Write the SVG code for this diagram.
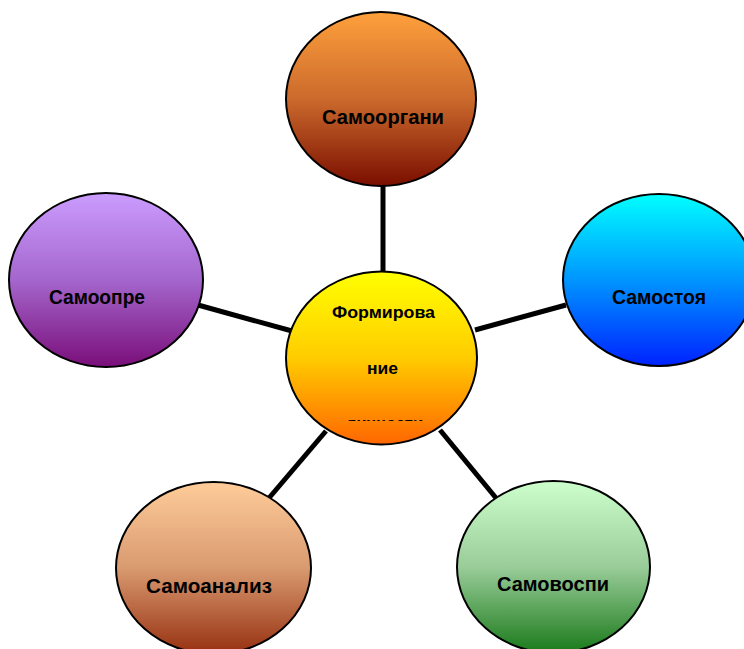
<svg xmlns="http://www.w3.org/2000/svg" width="744" height="649" viewBox="0 0 744 649">
  <style>
    .node { stroke: #000; stroke-width: 2; }
    .edge { stroke: #000; stroke-width: 5; fill: none; }
    .lbl { font-family: "Liberation Sans", Arial, sans-serif; font-weight: bold; font-size: 20px; fill: #000; text-anchor: middle; }
    .clbl { font-family: "Liberation Sans", Arial, sans-serif; font-weight: bold; font-size: 16px; fill: #000; text-anchor: middle; }
  </style>
  <defs>
    <linearGradient id="gTop" x1="0" y1="0" x2="0" y2="1">
      <stop offset="0" stop-color="#FFA03C"/>
      <stop offset="0.5" stop-color="#CB6A2C"/>
      <stop offset="1" stop-color="#7A0E00"/>
    </linearGradient>
    <linearGradient id="gRight" x1="0" y1="0" x2="0" y2="1">
      <stop offset="0" stop-color="#00FFFF"/>
      <stop offset="0.5" stop-color="#0095FF"/>
      <stop offset="1" stop-color="#0022FF"/>
    </linearGradient>
    <linearGradient id="gLeft" x1="0" y1="0" x2="0" y2="1">
      <stop offset="0" stop-color="#CC9CFF"/>
      <stop offset="0.5" stop-color="#A466CC"/>
      <stop offset="1" stop-color="#7A0E7A"/>
    </linearGradient>
    <linearGradient id="gBL" x1="0" y1="0" x2="0" y2="1">
      <stop offset="0" stop-color="#FFCC99"/>
      <stop offset="0.5" stop-color="#D99A70"/>
      <stop offset="1" stop-color="#963010"/>
    </linearGradient>
    <linearGradient id="gBR" x1="0" y1="0" x2="0" y2="1">
      <stop offset="0" stop-color="#CCFFCC"/>
      <stop offset="0.5" stop-color="#99CC99"/>
      <stop offset="1" stop-color="#1A7A1A"/>
    </linearGradient>
    <linearGradient id="gCenter" x1="0" y1="0" x2="0" y2="1">
      <stop offset="0" stop-color="#FFFF00"/>
      <stop offset="0.5" stop-color="#FFCC00"/>
      <stop offset="1" stop-color="#FF6600"/>
    </linearGradient>
    <clipPath id="cClip">
      <rect x="286" y="270" width="192" height="151"/>
    </clipPath>
  </defs>

  <g id="connectors">
    <line class="edge" x1="383" y1="186" x2="383" y2="273"/>
    <line class="edge" x1="475" y1="330" x2="566" y2="305"/>
    <line class="edge" x1="198" y1="305" x2="292" y2="331"/>
    <line class="edge" x1="326" y1="431" x2="269" y2="498"/>
    <line class="edge" x1="440" y1="430" x2="496" y2="498"/>
  </g>

  <g id="node-top">
    <ellipse class="node" cx="381" cy="99" rx="95" ry="87" fill="url(#gTop)"/>
    <text class="lbl" x="383" y="124" textLength="122" lengthAdjust="spacingAndGlyphs">Самооргани</text>
  </g>

  <g id="node-right">
    <ellipse class="node" cx="659" cy="280" rx="96" ry="86" fill="url(#gRight)"/>
    <text class="lbl" x="659" y="304" textLength="94" lengthAdjust="spacingAndGlyphs">Самостоя</text>
  </g>

  <g id="node-left">
    <ellipse class="node" cx="106" cy="280" rx="97" ry="87" fill="url(#gLeft)"/>
    <text class="lbl" x="97" y="304" textLength="96" lengthAdjust="spacingAndGlyphs">Самоопре</text>
  </g>

  <g id="node-bottom-left">
    <ellipse class="node" cx="213.5" cy="568" rx="97.5" ry="86" fill="url(#gBL)"/>
    <text class="lbl" x="209" y="593" textLength="126" lengthAdjust="spacingAndGlyphs">Самоанализ</text>
  </g>

  <g id="node-bottom-right">
    <ellipse class="node" cx="553.5" cy="567" rx="96.5" ry="86" fill="url(#gBR)"/>
    <text class="lbl" x="553" y="591" textLength="112" lengthAdjust="spacingAndGlyphs">Самовоспи</text>
  </g>

  <g id="node-center">
    <ellipse class="node" cx="381.5" cy="358" rx="95.5" ry="86.5" fill="url(#gCenter)"/>
    <text class="clbl" x="383.5" y="318" textLength="103" lengthAdjust="spacingAndGlyphs">Формирова</text>
    <text class="clbl" x="382.5" y="374" textLength="31" lengthAdjust="spacingAndGlyphs">ние</text>
    <text class="clbl" x="384.5" y="429" textLength="77" lengthAdjust="spacingAndGlyphs" clip-path="url(#cClip)">личности</text>
  </g>
</svg>
